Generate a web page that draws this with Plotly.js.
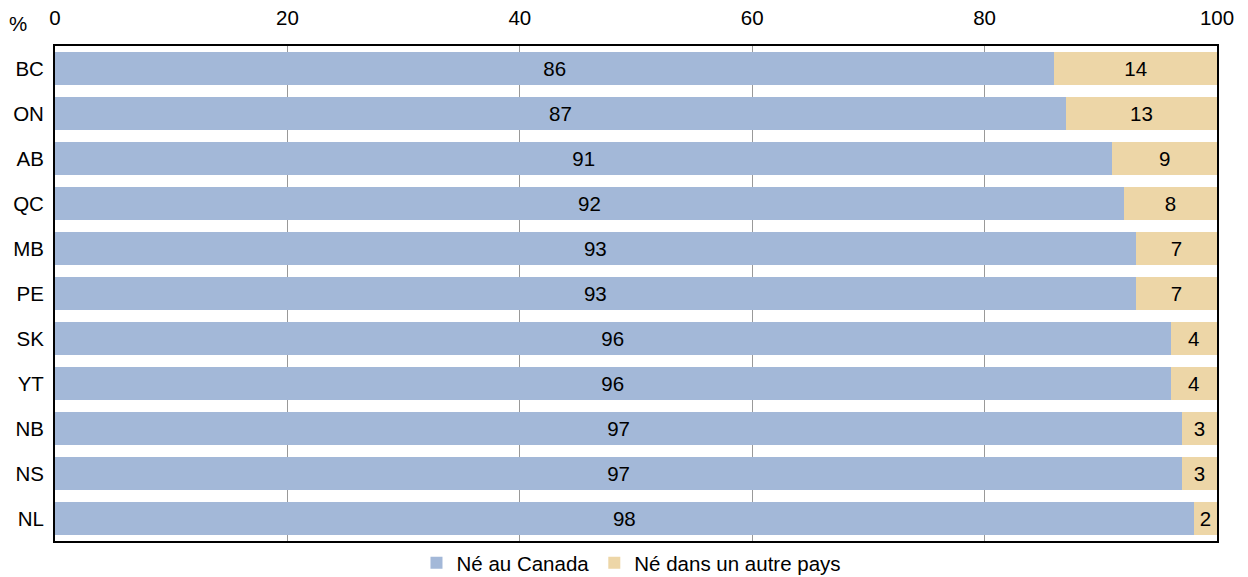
<!DOCTYPE html>
<html><head><meta charset="utf-8">
<script src="https://cdn.plot.ly/plotly-3.0.1.min.js"></script>
<style>html,body{margin:0;padding:0;background:#fff}#chart{width:1248px;height:577px}</style>
</head><body><div id="chart"></div>
<script>
const provinces = ["BC","ON","AB","QC","MB","PE","SK","YT","NB","NS","NL"];
const bornCanada = [86,87,91,92,93,93,96,96,97,97,98];
const bornAbroad = [14,13,9,8,7,7,4,4,3,3,2];
const seriesNames = ["Né au Canada","Né dans un autre pays"];
const tickVals = [0,20,40,60,80,100];

const font = {family:"Liberation Sans, Arial, sans-serif", size:20.5, color:"#000"};
const mk = (vals, name, color) => ({
  type:"bar", orientation:"h", y:provinces, x:vals, name:name,
  marker:{color:color, line:{width:0}},
  text:vals.map(String), textposition:"inside", insidetextanchor:"middle",
  textfont:Object.assign({}, font), hoverinfo:"none"
});
const data = [mk(bornCanada, seriesNames[0], "#A3B8D8"), mk(bornAbroad, seriesNames[1], "#EDD6A7")];
const layout = {
  width:1248, height:577, barmode:"stack", bargap:0.27,
  margin:{l:55, r:31, t:46, b:36, autoexpand:false},
  paper_bgcolor:"#fff", plot_bgcolor:"#fff", font:font,
  showlegend:true,
  legend:{orientation:"h", x:0.506, xanchor:"center", xref:"container", yref:"paper", y:-0.004, yanchor:"top", font:font, traceorder:"normal", itemwidth:30, tracegroupgap:0, bgcolor:"rgba(0,0,0,0)"},
  xaxis:{side:"top", range:[0,100], tickvals:tickVals, ticktext:tickVals.map(String), showgrid:true, gridcolor:"#999", gridwidth:1,
    showline:true, mirror:true, linecolor:"#000", linewidth:2, ticks:"", zeroline:false, tickfont:font, ticklabelstandoff:11, fixedrange:true},
  yaxis:{autorange:"reversed", showline:true, mirror:true, linecolor:"#000", linewidth:2, ticks:"", tickfont:font, ticklabelstandoff:5, fixedrange:true},
  annotations:[{text:"%", xref:"paper", yref:"paper", x:-0.0224, y:1, xanchor:"right", yanchor:"bottom", yshift:9, showarrow:false, font:font}]
};
Plotly.newPlot("chart", data, layout, {displayModeBar:false, staticPlot:true});
</script></body></html>
